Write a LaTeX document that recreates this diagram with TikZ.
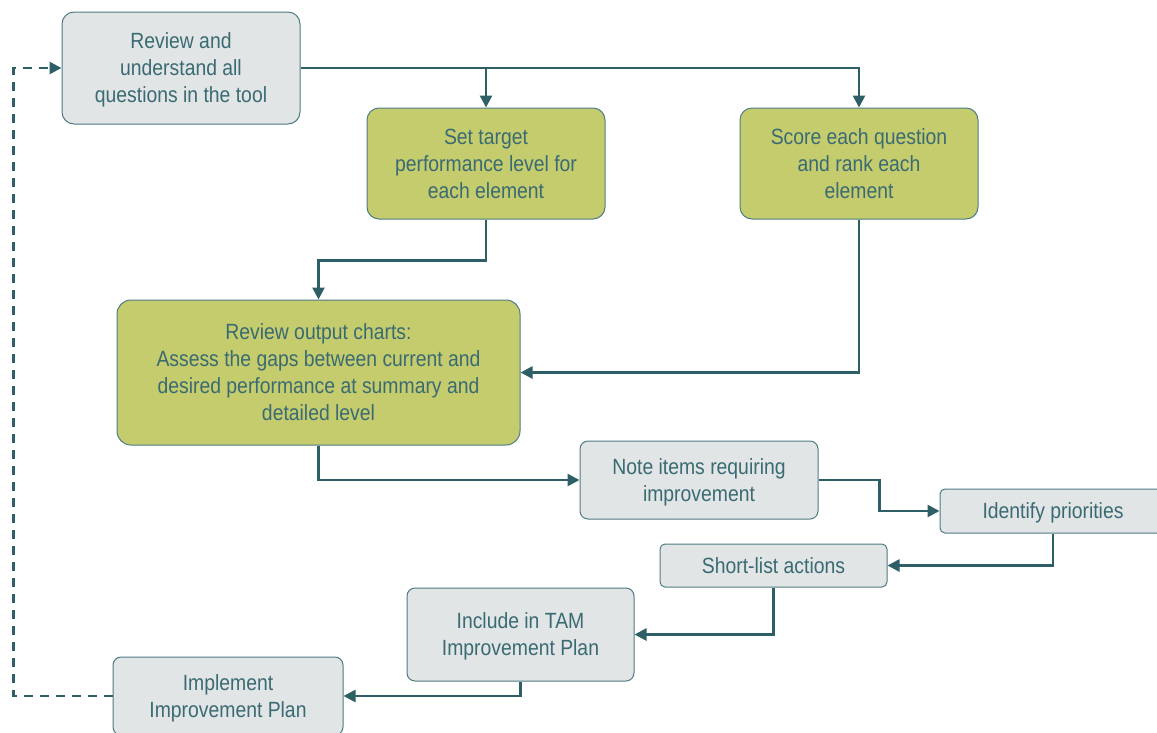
\documentclass[tikz,border=0pt]{standalone}
\usepackage{fontspec}
\setmainfont{Liberation Sans}[FakeStretch=0.88]
\usetikzlibrary{arrows.meta}
\definecolor{tealline}{HTML}{2E5F67}
\definecolor{tealtext}{HTML}{3A6A72}
\definecolor{tealedge}{HTML}{4E7C82}
\definecolor{greyfill}{HTML}{E1E5E6}
\definecolor{greenfill}{HTML}{C4CC6E}
\tikzset{
  box/.style={draw=tealedge, line width=1pt, align=center, inner sep=0pt,
    text depth=0pt, text=tealtext, font=\fontsize{22pt}{27pt}\selectfont},
  gbox/.style={box, fill=greyfill},
  lbox/.style={box, fill=greenfill},
  conn/.style={draw=tealline, line width=2.6pt, -{Triangle[length=12pt,width=12pt]}},
  loopback/.style={conn, dash pattern=on 9pt off 7pt}
}
\begin{document}
\begin{tikzpicture}[x=1pt,y=-1pt]
\useasboundingbox (0,0) rectangle (1157,732);
% process boxes
\node[gbox, rounded corners=12pt, minimum width=238pt, minimum height=112pt] (b1) at (181,68)
  {Review and\\understand all\\questions in the tool};
\node[lbox, rounded corners=12pt, minimum width=238pt, minimum height=111pt] (b2) at (486,163.5)
  {Set target\\performance level for\\each element};
\node[lbox, rounded corners=12pt, minimum width=238pt, minimum height=111pt] (b3) at (859,163.5)
  {Score each question\\and rank each\\element};
\node[lbox, rounded corners=14pt, minimum width=403pt, minimum height=145pt] (b4) at (318.5,372.5)
  {Review output charts:\\Assess the gaps between current and\\desired performance at summary and\\detailed level};
\node[gbox, rounded corners=8pt, minimum width=238pt, minimum height=78pt] (b5) at (699,480)
  {Note items requiring\\improvement};
\node[gbox, rounded corners=5pt, minimum width=226pt, minimum height=44pt] (b6) at (1053,511)
  {Identify priorities};
\node[gbox, rounded corners=5pt, minimum width=227pt, minimum height=43pt] (b7) at (773.5,565.5)
  {Short-list actions};
\node[gbox, rounded corners=8pt, minimum width=227pt, minimum height=93pt] (b8) at (520.5,634.5)
  {Include in TAM\\Improvement Plan};
\node[gbox, rounded corners=8pt, minimum width=230pt, minimum height=78pt] (b9) at (228,696)
  {Implement\\Improvement Plan};
% connectors
\draw[conn] (b1.east) -| (b3.north);
\draw[conn] (b1.east -| b2.north) -- (b2.north);
\draw[conn] (b2.south) -- ++(0,41) -| (b4.north);
\draw[conn] (b3.south) |- (b4.east);
\draw[conn] (b4.south) |- (b5.west);
\draw[conn] (b5.east) -- ++(61,0) |- (b6.west);
\draw[conn] (b6.south) |- (b7.east);
\draw[conn] (b7.south) |- (b8.east);
\draw[conn] (b8.south) |- (b9.east);
\draw[loopback] (b9.west) -- ++(-99,0) |- (b1.west);
\end{tikzpicture}
\end{document}
